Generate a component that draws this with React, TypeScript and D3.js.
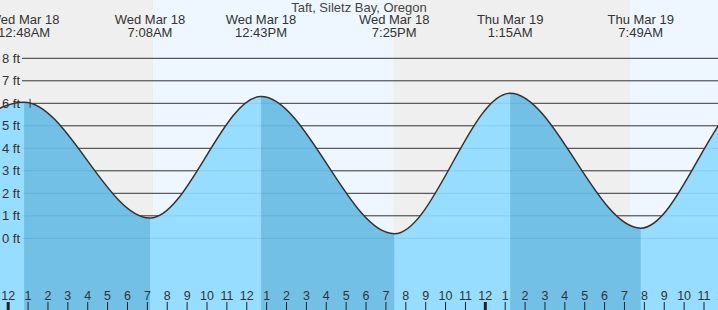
import React from "react";
import * as d3 from "d3";

// hours counted from midnight, Wed Mar 18
const tideHours = [-6.2, 0.8, 7.133, 12.717, 19.417, 25.25, 31.817, 37.5, 43.8];
const tideFeet = [0.0, 6.05, 0.9, 6.3, 0.2, 6.45, 0.45, 6.4, 0.6];
const tideDay = ["", "Wed Mar 18", "Wed Mar 18", "Wed Mar 18", "Wed Mar 18", "Thu Mar 19", "Thu Mar 19", "", ""];
const tideClock = ["", "12:48AM", "7:08AM", "12:43PM", "7:25PM", "1:15AM", "7:49AM", "", ""];

const sunriseHours = [7.3, 31.28];
const sunsetHours = [19.37];

const footTicks = [0, 1, 2, 3, 4, 5, 6, 7, 8];
const hourTicks = d3.range(0, 37);

const nowHour = 1.1;
const nowFeet = 6.0;

const title = "Taft, Siletz Bay, Oregon";

const W = 718;
const H = 310;
const FONT = "'Liberation Sans', Arial, sans-serif";

export default function App() {
  const x = d3.scaleLinear().domain([0, 36]).range([8.2, 8.2 + 19.88 * 36]);
  const y = d3.scaleLinear().domain([0, 8]).range([238.3, 58.3]);
  const t0 = x.invert(0);
  const t1 = x.invert(W);

  const pts = tideHours.map((h, i) => ({ h, ft: tideFeet[i] }));

  const area = d3
    .area<{ h: number; ft: number }>()
    .x((d) => x(d.h))
    .y0(H)
    .y1((d) => y(d.ft))
    .curve(d3.curveMonotoneX);

  const line = d3
    .line<{ h: number; ft: number }>()
    .x((d) => x(d.h))
    .y((d) => y(d.ft))
    .curve(d3.curveMonotoneX);

  // night / day shading
  const bounds = [t0, sunriseHours[0], sunsetHours[0], sunriseHours[1], t1];
  const shades = bounds.slice(0, -1).map((b, i) => ({
    from: b,
    to: bounds[i + 1],
    night: i % 2 === 0,
  }));

  // falling tide bands (high -> low)
  const falling = [];
  for (let i = 0; i < tideHours.length - 1; i++) {
    if (tideFeet[i] > tideFeet[i + 1]) falling.push([tideHours[i], tideHours[i + 1]]);
  }

  const gridX0 = 22;

  return (
    <svg width={W} height={H} style={{ position: "absolute", left: 0, top: 0 }} fontFamily={FONT}>
      <defs>
        <clipPath id="water">
          <path d={area(pts) || ""} />
        </clipPath>
      </defs>

      {shades.map((s, i) => (
        <rect
          key={"s" + i}
          x={x(s.from)}
          y={0}
          width={x(s.to) - x(s.from)}
          height={H}
          fill={s.night ? "#efefef" : "#eef7ff"}
        />
      ))}

      {footTicks.map((f) => (
        <line key={"g" + f} x1={gridX0} x2={W} y1={y(f)} y2={y(f)} stroke="#333" strokeWidth={1} />
      ))}

      <path d={area(pts) || ""} fill="#97ddff" />
      <g clipPath="url(#water)">
        {falling.map((b, i) => (
          <rect key={"f" + i} x={x(b[0])} y={0} width={x(b[1]) - x(b[0])} height={H} fill="#73c0e6" />
        ))}
        {footTicks.map((f) => (
          <line key={"wg" + f} x1={gridX0} x2={W} y1={y(f)} y2={y(f)} stroke="rgba(0,90,150,0.13)" strokeWidth={1} />
        ))}
      </g>
      <path d={line(pts) || ""} fill="none" stroke="#333" strokeWidth={1.5} />

      <line
        x1={x(nowHour)}
        x2={x(nowHour)}
        y1={y(nowFeet) - 4.5}
        y2={y(nowFeet) + 4.5}
        stroke="#333"
        strokeWidth={1}
      />

      {footTicks.map((f) => (
        <text key={"yl" + f} x={20} y={y(f) + 4.5} textAnchor="end" fontSize={13} fill="#333">
          {f} ft
        </text>
      ))}

      <text x={359} y={12} textAnchor="middle" fontSize={13} fill="#444">
        {title}
      </text>

      {tideHours.map((h, i) =>
        tideClock[i] ? (
          <g key={"tl" + i} fill="#333" fontSize={13} textAnchor="middle">
            <text x={x(h)} y={24}>
              {tideDay[i]}
            </text>
            <text x={x(h)} y={36.5}>
              {tideClock[i]}
            </text>
          </g>
        ) : null
      )}

      {hourTicks.map((h) => (
        <g key={"ht" + h}>
          <line
            x1={x(h)}
            x2={x(h)}
            y1={302}
            y2={H}
            stroke="#222"
            strokeWidth={h % 24 === 0 ? 3 : 1}
          />
          <text x={x(h)} y={300} textAnchor="middle" fontSize={12.5} fill="#333">
            {h % 12 === 0 ? 12 : h % 12}
          </text>
        </g>
      ))}
    </svg>
  );
}
